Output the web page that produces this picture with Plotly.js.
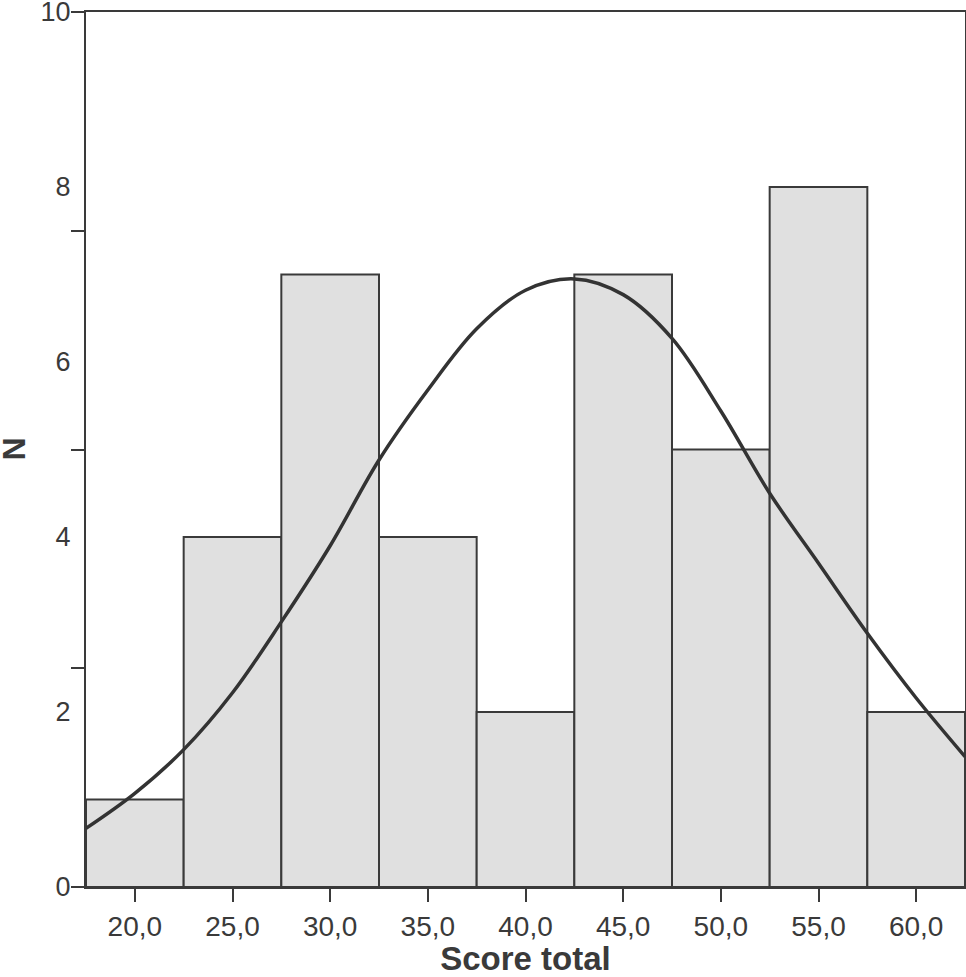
<!DOCTYPE html>
<html>
<head>
<meta charset="utf-8">
<script src="https://cdn.plot.ly/plotly-3.0.1.min.js"></script>
<style>html,body{margin:0;padding:0;background:#fff;}#chart{width:966px;height:977px;}</style>
</head>
<body>
<div id="chart"></div>
<script>
// Histogram bins (centres) and counts
const binCenters = [20, 25, 30, 35, 40, 45, 50, 55, 60];
const counts = [1, 4, 7, 4, 2, 7, 5, 8, 2];
// Normal curve, points
const curveX = [17.5, 20, 22.5, 25, 27.5, 30, 32.5, 35, 37.5, 40, 42.5, 45, 47.5, 50, 52.5, 55, 57.5, 60, 62.5];
const curveY = [0.67, 1.07, 1.57, 2.22, 3.03, 3.90, 4.88, 5.68, 6.38, 6.82, 6.95, 6.77, 6.27, 5.44, 4.50, 3.70, 2.90, 2.16, 1.49];
const xTickVals = [20, 25, 30, 35, 40, 45, 50, 55, 60];
const xTickText = ["20,0", "25,0", "30,0", "35,0", "40,0", "45,0", "50,0", "55,0", "60,0"];
const yLabelVals = [0, 2, 4, 6, 8, 10];
const yTickMarks = [0, 2.5, 5, 7.5, 10];

const ink = '#3a3a3a';
const font = 'Liberation Sans, Arial, sans-serif';

const traces = [
  {
    type: 'bar', x: binCenters, y: counts, width: 5,
    marker: {color: '#e0e0e0', line: {color: ink, width: 2}},
    hoverinfo: 'skip', showlegend: false
  },
  {
    type: 'scatter', mode: 'lines', x: curveX, y: curveY,
    line: {color: '#333333', width: 3.5, shape: 'spline', smoothing: 1},
    hoverinfo: 'skip', showlegend: false
  },
  {
    type: 'scatter', mode: 'markers', x: [40], y: [5], yaxis: 'y2',
    marker: {opacity: 0}, hoverinfo: 'skip', showlegend: false
  }
];

const layout = {
  width: 966, height: 977,
  margin: {l: 86, r: 1, t: 12, b: 90, pad: 0},
  paper_bgcolor: '#ffffff', plot_bgcolor: '#ffffff',
  font: {family: font, color: ink, size: 27},
  bargap: 0,
  showlegend: false,
  xaxis: {
    range: [17.5, 62.5], tickmode: 'array', tickvals: xTickVals, ticktext: xTickText,
    ticks: 'outside', ticklen: 13, tickwidth: 2, tickcolor: ink,
    showline: true, linecolor: ink, linewidth: 2, mirror: true,
    showgrid: false, zeroline: false,
    tickfont: {size: 28, color: ink, family: font},
    title: {text: 'Score total', font: {size: 33, color: ink, family: font, weight: 'bold'}, standoff: 19}
  },
  yaxis: {
    range: [0, 10.0001], tickmode: 'array', tickvals: yLabelVals, ticktext: ['0', '2', '4', '6', '8', '10'],
    ticks: '', ticklabelstandoff: 8, ticklabeloverflow: 'allow',
    showline: true, linecolor: ink, linewidth: 2, mirror: true,
    showgrid: false, zeroline: false,
    tickfont: {size: 27, color: ink, family: font}
  },
  yaxis2: {
    overlaying: 'y', side: 'left', range: [0, 10.0001], tickmode: 'array', tickvals: yTickMarks,
    ticks: 'outside', ticklen: 14, tickwidth: 2, tickcolor: ink,
    showticklabels: false, showline: false, showgrid: false, zeroline: false
  },
  annotations: [{
    xref: 'paper', yref: 'paper', x: 0, y: 0.5, xanchor: 'center', yanchor: 'middle',
    xshift: -73, text: 'N', textangle: -90, showarrow: false,
    font: {size: 32, color: ink, family: font, weight: 'bold'}
  }]
};

Plotly.newPlot('chart', traces, layout, {displayModeBar: false, staticPlot: true});
</script>
</body>
</html>
